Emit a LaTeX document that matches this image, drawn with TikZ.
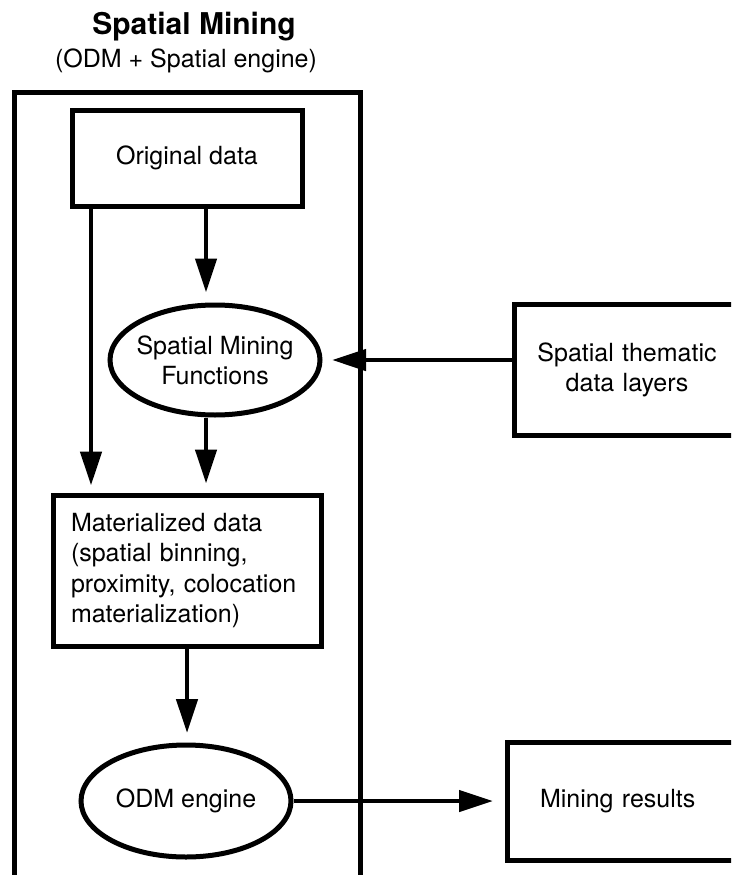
\documentclass[tikz,border=0pt]{standalone}
\usepackage{fontspec}
\setmainfont{TeX Gyre Heros}
\usetikzlibrary{arrows.meta,shapes.geometric}

\begin{document}
\begin{tikzpicture}[x=1pt,y=-1pt,
  box/.style={draw,line width=5pt,font=\fontsize{25}{30.5}\selectfont},
  oval/.style={draw,ellipse,line width=5pt,inner xsep=-20pt,inner ysep=0pt,align=center,font=\fontsize{25}{30}\selectfont},
  arrow/.style={line width=4.5pt,-{Triangle[length=34pt,width=21pt]}}]
\useasboundingbox (0,0) rectangle (731,875);
\clip (0,0) rectangle (731,875);
% heading
\node[anchor=base,font=\fontsize{30}{36}\selectfont\bfseries] (title) at (194,35) {Spatial Mining};
\node[anchor=base,font=\fontsize{25}{30}\selectfont] (subtitle) at (186,67) {(ODM + Spatial engine)};
% frame, open at the bottom
\draw[line width=5pt] (14,875) |- (360,92) -- (360,875);
% nodes
\node[box,minimum width=230pt,minimum height=96pt] (orig) at (187,158) {Original data};
\node[oval,minimum width=210pt,minimum height=110pt] (smf) at (215,360) {Spatial Mining\\Functions};
\node[box,text width=232pt,align=left,inner xsep=18pt,minimum height=151pt] (mat) at (187,570.5) {Materialized data\\(spatial binning,\\proximity, colocation\\materialization)};
\node[oval,minimum width=210pt,minimum height=112pt] (odm) at (186,801) {ODM engine};
\node[box,text width=180pt,align=center,inner xsep=23pt,minimum height=131pt] (layers) at (627,370) {Spatial thematic\\data layers};
\node[box,text width=200pt,align=left,inner xsep=33pt,minimum height=118pt] (results) at (640,801) {Mining results};
% arrows
\coordinate (lft) at (91,0);
\coordinate (mid) at (206,0);
\draw[arrow,shorten >=7pt] (orig.south -| lft) -- (mat.north -| lft);
\draw[arrow,shorten >=10pt] (orig.south -| mid) -- (smf.north -| mid);
\draw[arrow,shorten >=9pt] (smf.south -| mid) -- (mat.north -| mid);
\draw[arrow,shorten >=9.5pt] (mat.south) -- (mat.south |- odm.north);
\draw[arrow,shorten >=9.5pt] (layers.west |- smf.east) -- (smf.east);
\draw[arrow,shorten >=11.5pt] (odm.east) -- (results.west |- odm.east);
\end{tikzpicture}
\end{document}
